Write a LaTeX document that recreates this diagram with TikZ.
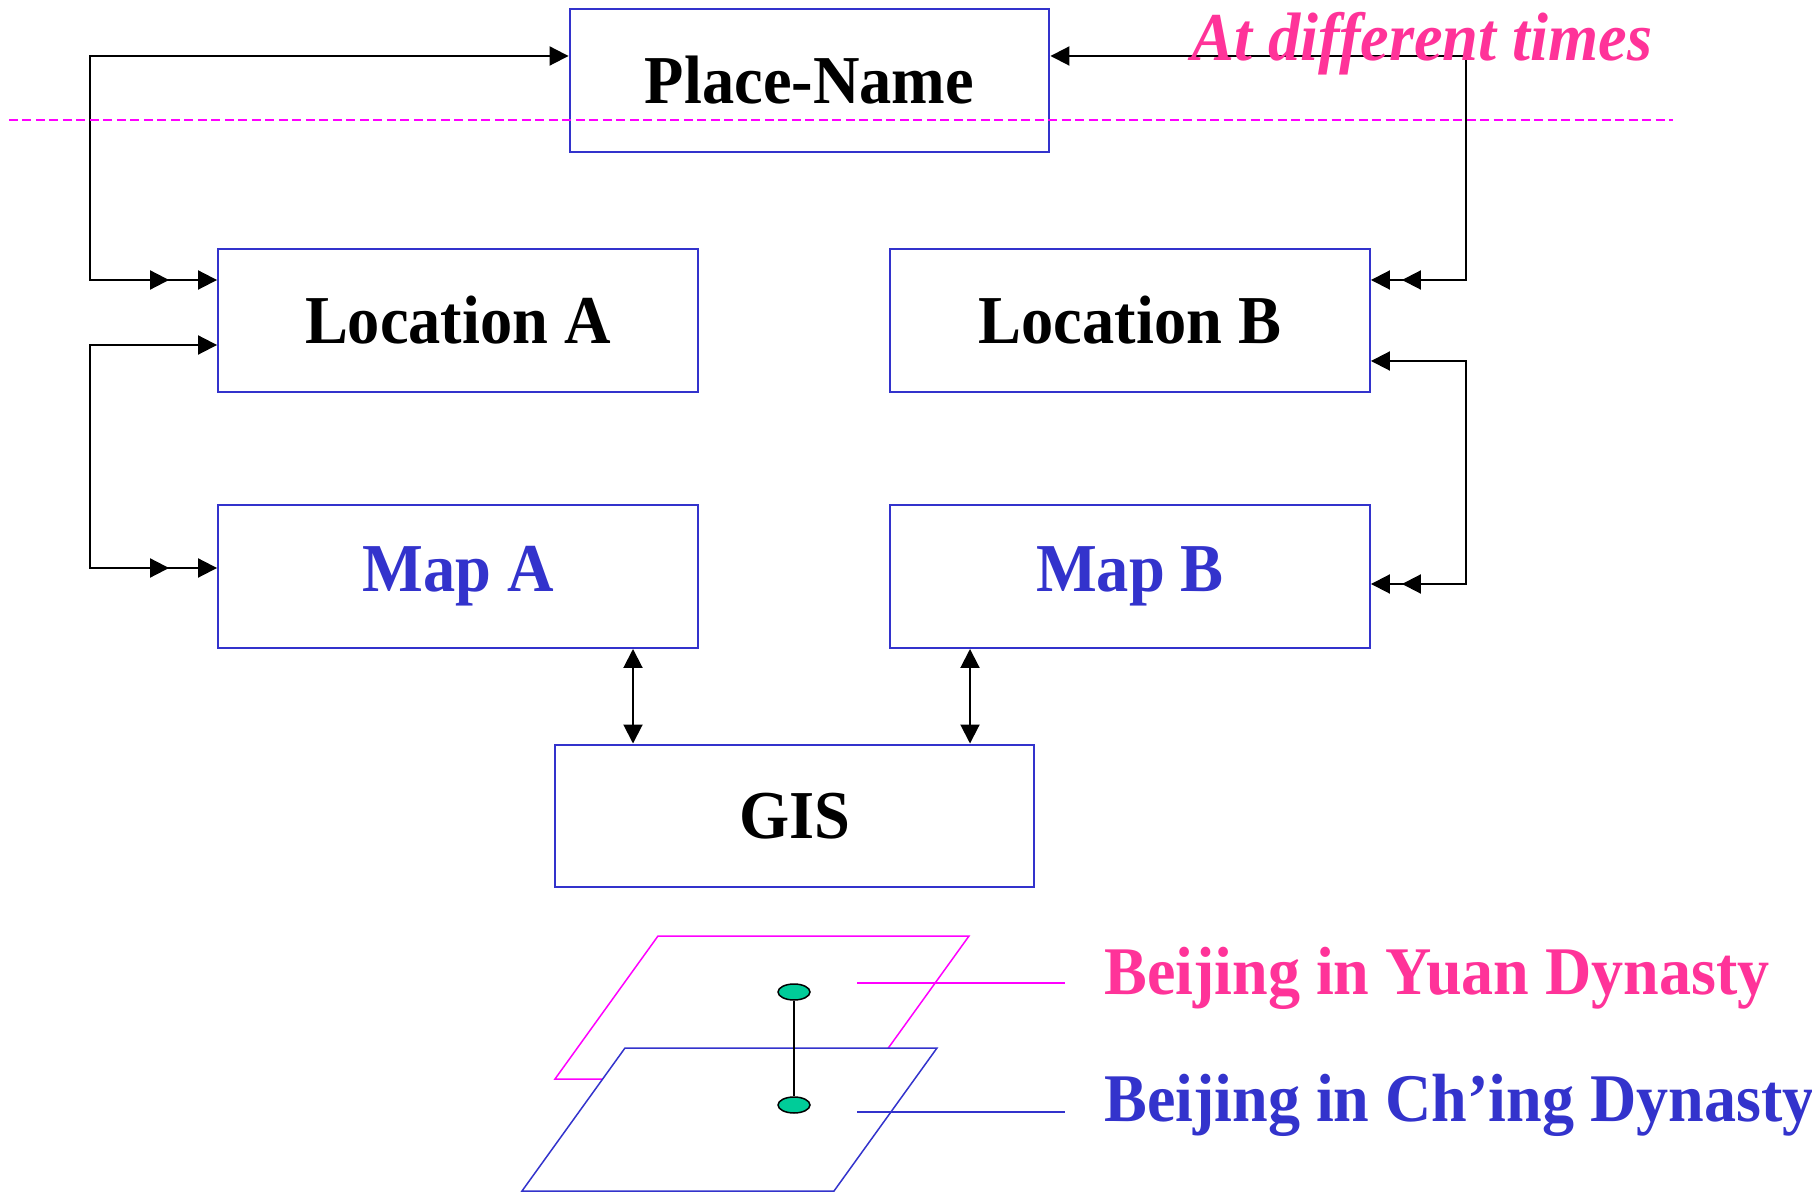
\documentclass[tikz,border=0pt]{standalone}
\usepackage{fontspec}
\setmainfont{Liberation Serif}[FakeStretch=0.94]
\usetikzlibrary{arrows.meta,shapes.geometric}

\definecolor{boxblue}{RGB}{51,51,204}
\definecolor{hotpink}{RGB}{255,51,153}
\definecolor{layerpink}{RGB}{255,0,255}
\definecolor{spotgreen}{RGB}{0,204,153}

\tikzset{
  hd/.tip={Triangle[length=0.38cm,width=0.38cm]},
  box/.style={draw=boxblue,line width=0.04cm,minimum width=9.6cm,minimum height=2.86cm,
    font=\fontsize{39}{45}\selectfont\bfseries},
  link/.style={line width=0.04cm},
  lbl/.style={inner sep=0pt,font=\fontsize{38.8}{44}\selectfont\bfseries},
  layer/.style={line width=0.03cm},
  spot/.style={ellipse,draw,fill=spotgreen,line width=0.03cm,inner sep=0pt,
    minimum width=0.64cm,minimum height=0.32cm}
}

\begin{document}
\begin{tikzpicture}[x=0.02cm,y=-0.02cm]
            \useasboundingbox (0,0) rectangle (1812,1195);

            % boxes
            \node[box] (pn) at (809.5,80.5) {Place-Name};
            \node[box] (la) at (458,320.5) {Location A};
            \node[box] (lb) at (1130,320.5) {Location B};
            \node[box,text=boxblue] (ma) at (458,576.5) {Map A};
            \node[box,text=boxblue] (mb) at (1130,576.5) {Map B};
            \node[box] (gis) at (794.5,816) {GIS};

            % elbows
            \coordinate (tl) at (90,56);
            \coordinate (ml) at (90,280);
            \coordinate (nl) at (90,345);
            \coordinate (bl) at (90,568);
            \coordinate (tr) at (1466,56);
            \coordinate (mr) at (1466,280);
            \coordinate (nr) at (1466,361);
            \coordinate (br) at (1466,584);
            \coordinate (ga) at (633,700);
            \coordinate (gb) at (970,700);

            \draw[link,{hd}-{hd[sep=0.58cm]hd}] (tl -| pn.west) -- (tl) -- (ml) -- (ml -| la.west);
            \draw[link,{hd}-{hd[sep=0.58cm]hd}] (nl -| la.west) -- (nl) -- (bl) -- (bl -| ma.west);
            \draw[link,{hd}-{hd[sep=0.24cm]hd}] (tr -| pn.east) -- (tr) -- (mr) -- (mr -| lb.east);
            \draw[link,{hd}-{hd[sep=0.24cm]hd}] (nr -| lb.east) -- (nr) -- (br) -- (br -| mb.east);
            \draw[link,{hd}-{hd}] (ga |- ma.south) -- (ga |- gis.north);
            \draw[link,{hd}-{hd}] (gb |- mb.south) -- (gb |- gis.north);

            \node[lbl,text=hotpink,font=\fontsize{39}{45}\selectfont\bfseries\itshape,anchor=base]
                (adt) at (1422,61) {At different times};

            \draw[layerpink,layer,dash pattern=on 0.18cm off 0.09cm] (9,120) -- (1673,120);

            % layers
            \draw[layerpink,layer] (658,936) -- (969,936) -- (866,1079) -- (555,1079) -- cycle;
            \filldraw[draw=boxblue,fill=white,layer] (625,1048) -- (937,1048) -- (834,1191) -- (522,1191) -- cycle;

            \node[spot] (yp) at (794,992) {};
            \node[spot] (cp) at (794,1105) {};
            \draw[layer] (yp) -- (cp);

            \node[lbl,text=hotpink,anchor=base west] (yuan) at (1104,994) {Beijing in Yuan Dynasty};
            \node[lbl,text=boxblue,anchor=base west] (ching) at (1104,1121) {Beijing in Ch’ing Dynasty};

            \coordinate (ys) at (857,983);
            \coordinate (ye) at (1065,983);
            \coordinate (cs) at (857,1112);
            \coordinate (ce) at (1065,1112);
            \draw[layerpink,layer] (ys) -- (ye);
            \draw[boxblue,layer] (cs) -- (ce);
        \end{tikzpicture}
\end{document}
